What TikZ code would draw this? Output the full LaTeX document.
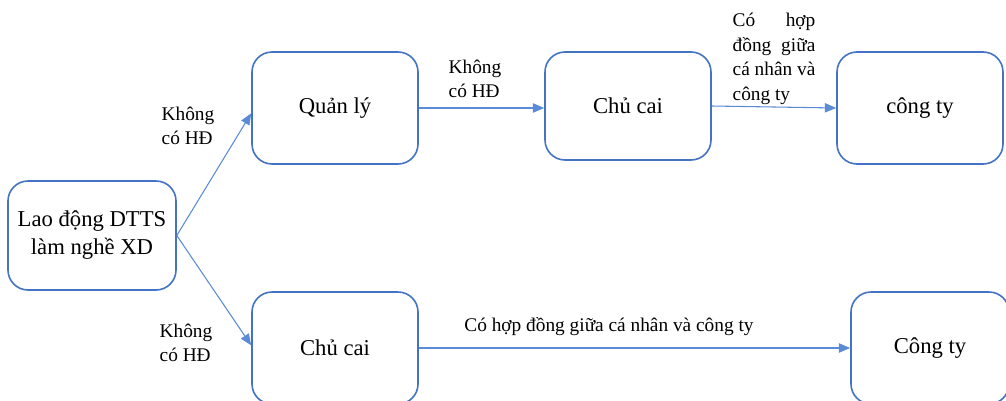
\documentclass[tikz,border=0pt]{standalone}
\usepackage{fontspec}
\setmainfont{Liberation Serif}
\usetikzlibrary{arrows.meta}
\definecolor{boxblue}{HTML}{4472C4}
\definecolor{lineblue}{HTML}{5B8BD6}
\begin{document}
\begin{tikzpicture}[x=0.75pt,y=-0.75pt,
  box/.style={draw=boxblue, line width=1.2pt, rounded corners=15pt, align=center,
    font=\fontsize{17}{21}\selectfont, inner sep=0pt},
  conn/.style={draw=lineblue, line width=0.8pt, -{Triangle[length=8.5pt,width=7pt]}},
  lbl/.style={font=\fontsize{14.5}{18.5}\selectfont, align=left, inner sep=0pt}]
\useasboundingbox (0,0) rectangle (1006,400);
\clip (0,0) rectangle (1006,400);
\node[box, minimum width=126pt, minimum height=81.75pt] (lao) at (92,235.5) {Lao động DTTS\\làm nghề XD};
\node[box, minimum width=124.5pt, minimum height=84pt] (ql) at (335,108) {Quản lý};
\node[box, minimum width=124.5pt, minimum height=81pt] (cc1) at (628,106) {Chủ cai};
\node[box, minimum width=124.5pt, minimum height=84pt] (ct1) at (920,108) {công ty};
\node[box, minimum width=124.5pt, minimum height=84pt] (cc2) at (335,348) {Chủ cai};
\node[box, minimum width=118.5pt, minimum height=84pt] (ct2) at (930,348) {Công ty};

\draw[conn] (lao.east) -- ([yshift=-4pt]ql.west);
\draw[conn] (lao.east) -- ([yshift=2pt]cc2.west);
\draw[conn] (ql.east) -- (ql.east -| cc1.west);
\draw[conn] (cc1.east) -- (ct1.west);
\draw[conn] (cc2.east) -- (ct2.west);

\node[lbl] (l1) at (188,126) {Không\\có HĐ};
\node[lbl] (l2) at (186,343) {Không\\có HĐ};
\node[lbl] (l3) at (475,79) {Không\\có HĐ};
\node[lbl] (l4) at (774,59) {\makebox[62pt][s]{Có\hfill hợp}\\\makebox[62pt][s]{đồng\hfill giữa}\\cá nhân và\\công ty};
\node[lbl] (l5) at (609,327) {Có hợp đồng giữa cá nhân và công ty};
\end{tikzpicture}
\end{document}
